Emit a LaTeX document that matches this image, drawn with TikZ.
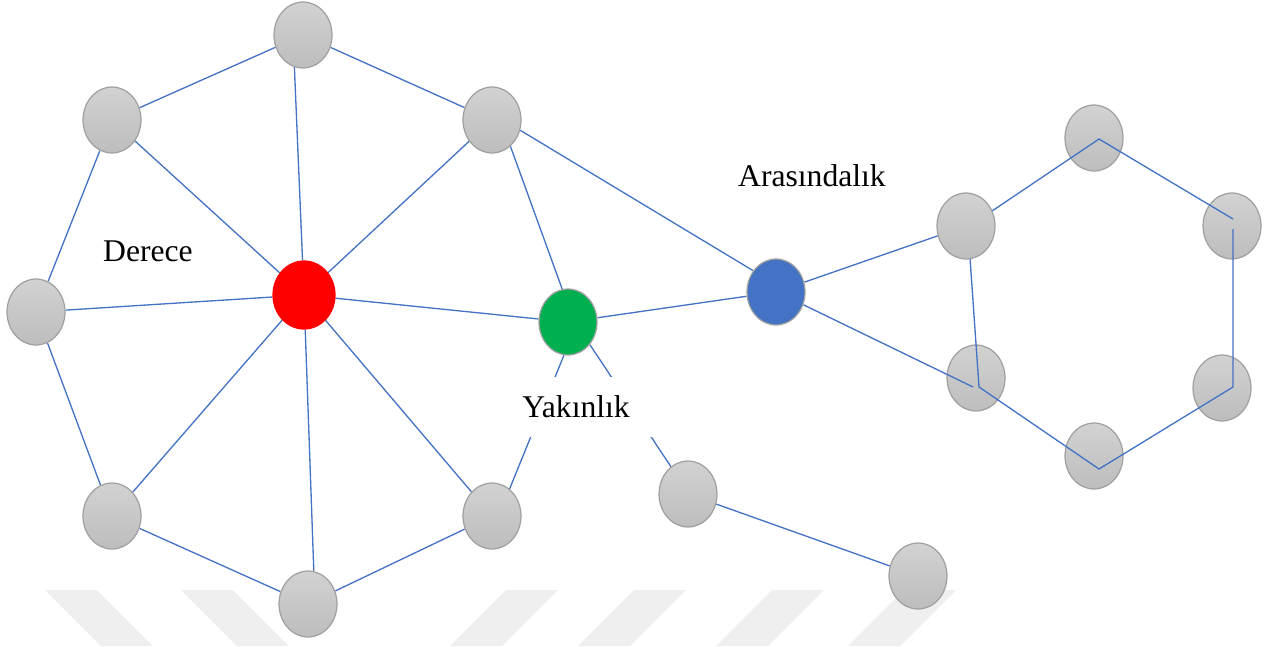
\documentclass[tikz,border=0pt]{standalone}
\usepackage{fontspec}
\setmainfont{Liberation Serif}
\usetikzlibrary{shapes.geometric}
\definecolor{edgeblue}{HTML}{4472C4}
\definecolor{nodetop}{HTML}{D2D2D2}
\definecolor{nodebot}{HTML}{BDBDBD}
\definecolor{nodeborder}{HTML}{A0A0A0}
\definecolor{wmgray}{HTML}{EFEFEF}
\definecolor{nodered}{HTML}{FF0000}
\definecolor{nodegreen}{HTML}{00B050}
\definecolor{nodeblue}{HTML}{4472C4}
\pgfdeclarelayer{wmlayer}
\pgfdeclarelayer{edgelayer}
\pgfdeclarelayer{frontlayer}
\pgfsetlayers{wmlayer,edgelayer,main,frontlayer}
\begin{document}
\begin{tikzpicture}[x=0.02cm,y=-0.02cm,
  vert/.style={ellipse, draw=nodeborder, line width=0.7pt, top color=nodetop, bottom color=nodebot,
    minimum width=1.16cm, minimum height=1.32cm, inner sep=0pt},
  hub/.style={ellipse, line width=0.7pt, minimum width=1.16cm, minimum height=1.32cm, inner sep=0pt},
  link/.style={draw=edgeblue, line width=0.75pt},
  lbl/.style={font=\fontsize{18}{20}\selectfont, inner sep=0pt},
  wmstripe/.style={fill=wmgray}
]
\useasboundingbox (0,0) rectangle (1280,646);

% watermark stripes
\begin{pgfonlayer}{wmlayer}
  \fill[wmstripe] (45,590) -- ++(52,0) -- ++(56,56) -- ++(-52,0) -- cycle;
  \fill[wmstripe] (181,590) -- ++(52,0) -- ++(56,56) -- ++(-52,0) -- cycle;
  \fill[wmstripe] (506,590) -- ++(52,0) -- ++(-56,56) -- ++(-52,0) -- cycle;
  \fill[wmstripe] (634,590) -- ++(52,0) -- ++(-56,56) -- ++(-52,0) -- cycle;
  \fill[wmstripe] (772,590) -- ++(52,0) -- ++(-56,56) -- ++(-52,0) -- cycle;
  \fill[wmstripe] (904,590) -- ++(52,0) -- ++(-56,56) -- ++(-52,0) -- cycle;
\end{pgfonlayer}

% nodes
\node[vert] (top) at (303,35) {};
\node[vert] (ul) at (112,120) {};
\node[vert] (ur) at (492,120) {};
\node[vert] (lf) at (36,312) {};
\node[hub, fill=nodered, draw=nodered, minimum width=1.24cm, minimum height=1.36cm] (red) at (304,295) {};
\node[hub, fill=nodegreen, draw=nodeborder] (grn) at (568,322) {};
\node[hub, fill=nodeblue, draw=nodeborder] (blu) at (776,292) {};
\node[vert] (ll) at (112,516) {};
\node[vert] (bt) at (308,604) {};
\node[vert] (lr) at (492,516) {};
\node[vert] (m1) at (688,494) {};
\node[vert] (m2) at (918,576) {};
\node[vert] (hT) at (1094,138) {};
\node[vert] (hUR) at (1232,226) {};
\node[vert] (hUL) at (966,226) {};
\node[vert] (hLL) at (976,378) {};
\node[vert] (hLR) at (1222,388) {};
\node[vert] (hB) at (1094,456) {};

% labels
\node[lbl, anchor=base] (der) at (148,261) {Derece};
\node[lbl, anchor=base] (ara) at (812,186) {Arasındalık};
\node[lbl, fill=white, minimum width=3.1cm, minimum height=1.2cm] (yak) at (576,407) {Yakınlık};

% hexagon corner points
\coordinate (p1) at (1099,139);
\coordinate (p2) at (1233,219);
\coordinate (p3) at (1233,229);
\coordinate (p4) at (1233,387);
\coordinate (p5) at (1099,469);
\coordinate (p6) at (979,387);
\coordinate (p7) at (973,387);

% edges behind nodes
\begin{pgfonlayer}{edgelayer}
  \draw[link] (top) -- (ul);
  \draw[link] (top) -- (ur);
  \draw[link] (top.-105) -- (red);
  \draw[link] (ul) -- (red);
  \draw[link] (ul) -- (lf);
  \draw[link] (lf) -- (red);
  \draw[link] (lf) -- (ll);
  \draw[link] (ll) -- (red);
  \draw[link] (ll) -- (bt);
  \draw[link] (bt.80) -- (red);
  \draw[link] (bt) -- (lr);
  \draw[link] (lr) -- (red);
  \draw[link] (ur) -- (red);
  \draw[link] (ur.-55) -- (grn.100);
  \draw[link] (ur.-20) -- (blu.137);
  \draw[link] (red) -- (grn);
  \draw[link] (grn) -- (blu);
  \draw[link] (grn.-97) -- (lr.57);
  \draw[link] (grn.-46) -- (m1.122);
  \draw[link] (m1) -- (m2);
  \draw[link] (blu) -- (hUL);
\end{pgfonlayer}

% edges over nodes (hexagon)
\begin{pgfonlayer}{frontlayer}
  \draw[link] (hUL.30) -- (p1) -- (p2);
  \draw[link] (p3) -- (p4) -- (p5) -- (p6) -- (hUL.-83);
  \draw[link] (blu.-25) -- (p7);
\end{pgfonlayer}
\end{tikzpicture}
\end{document}
